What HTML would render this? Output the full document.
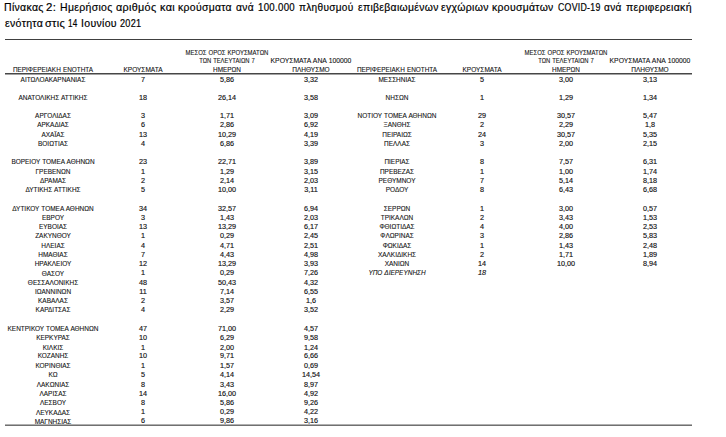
<!DOCTYPE html>
<html><head><meta charset="utf-8"><style>
html,body{margin:0;padding:0;background:#fff}
body{width:726px;height:437px;overflow:hidden;position:relative;font-family:"Liberation Sans",sans-serif}
.t{position:absolute;white-space:pre;font-size:11.4px;line-height:0;color:#000;transform-origin:0 0;letter-spacing:0.35px;-webkit-text-stroke:0.2px #000}
.tb div{position:absolute;width:200px;text-align:center;white-space:pre;font-size:6.6px;line-height:0;color:#111;transform-origin:100px 0;word-spacing:0.4px;-webkit-text-stroke:0.1px #111}
.tb .it{font-style:italic}
.tb .d{-webkit-text-stroke:0.14px #111}
.ln{position:absolute;left:5px;width:687px}
</style></head><body>
<div class="t" style="left:4.28px;top:7.05px;transform:scaleX(0.921)">Πίνακας</div>
<div class="t" style="left:45.87px;top:7.05px;transform:scaleX(1.001)">2:</div>
<div class="t" style="left:60.38px;top:7.05px;transform:scaleX(0.919)">Ημερήσιος</div>
<div class="t" style="left:116.06px;top:7.05px;transform:scaleX(0.946)">αριθμός</div>
<div class="t" style="left:159.72px;top:7.05px;transform:scaleX(0.955)">και</div>
<div class="t" style="left:178.35px;top:7.05px;transform:scaleX(0.914)">κρούσματα</div>
<div class="t" style="left:236.48px;top:7.05px;transform:scaleX(0.898)">ανά</div>
<div class="t" style="left:258.10px;top:7.05px;transform:scaleX(0.848)">100.000</div>
<div class="t" style="left:299.09px;top:7.05px;transform:scaleX(0.883)">πληθυσμού</div>
<div class="t" style="left:357.98px;top:7.05px;transform:scaleX(0.912)">επιβεβαιωμένων</div>
<div class="t" style="left:441.47px;top:7.05px;transform:scaleX(0.923)">εγχώριων</div>
<div class="t" style="left:492.45px;top:7.05px;transform:scaleX(0.915)">κρουσμάτων</div>
<div class="t" style="left:557.79px;top:7.05px;transform:scaleX(0.770)">COVID-19</div>
<div class="t" style="left:604.48px;top:7.05px;transform:scaleX(0.887)">ανά</div>
<div class="t" style="left:625.87px;top:7.05px;transform:scaleX(0.923)">περιφερειακή</div>
<div class="t" style="left:4.67px;top:23.05px;transform:scaleX(0.926)">ενότητα</div>
<div class="t" style="left:45.46px;top:23.05px;transform:scaleX(0.963)">στις</div>
<div class="t" style="left:68.29px;top:23.05px;transform:scaleX(0.715)">14</div>
<div class="t" style="left:81.18px;top:23.05px;transform:scaleX(0.921)">Ιουνίου</div>
<div class="t" style="left:119.87px;top:23.05px;transform:scaleX(0.803)">2021</div>
<div class="ln" style="top:39px;height:1px;background:#404040"></div>
<div class="ln" style="top:73px;height:1px;background:#474747"></div>
<div class="ln" style="top:74px;height:1px;background:#a2a2a2"></div>
<div class="ln" style="top:424px;height:1px;background:#b0b0b0"></div>
<div class="ln" style="top:425px;height:1px;background:#707070"></div>
<div class="tb">
<div class="n" style="left:-47.40px;top:79.71px;transform:scaleX(0.98)">ΑΙΤΩΛΟΑΚΑΡΝΑΝΙΑΣ</div>
<div class="d" style="left:42.90px;top:79.71px;transform:scaleX(1.1)">7</div>
<div class="d" style="left:127.00px;top:79.71px;transform:scaleX(1.1)">5,86</div>
<div class="d" style="left:211.00px;top:79.71px;transform:scaleX(1.1)">3,32</div>
<div class="n" style="left:-47.40px;top:98.15px;transform:scaleX(0.98)">ΑΝΑΤΟΛΙΚΗΣ ΑΤΤΙΚΗΣ</div>
<div class="d" style="left:42.90px;top:98.15px;transform:scaleX(1.1)">18</div>
<div class="d" style="left:127.00px;top:98.15px;transform:scaleX(1.1)">26,14</div>
<div class="d" style="left:211.00px;top:98.15px;transform:scaleX(1.1)">3,58</div>
<div class="n" style="left:-47.40px;top:115.59px;transform:scaleX(0.98)">ΑΡΓΟΛΙΔΑΣ</div>
<div class="d" style="left:42.90px;top:115.59px;transform:scaleX(1.1)">3</div>
<div class="d" style="left:127.00px;top:115.59px;transform:scaleX(1.1)">1,71</div>
<div class="d" style="left:211.00px;top:115.59px;transform:scaleX(1.1)">3,09</div>
<div class="n" style="left:-47.40px;top:124.81px;transform:scaleX(0.98)">ΑΡΚΑΔΙΑΣ</div>
<div class="d" style="left:42.90px;top:124.81px;transform:scaleX(1.1)">6</div>
<div class="d" style="left:127.00px;top:124.81px;transform:scaleX(1.1)">2,86</div>
<div class="d" style="left:211.00px;top:124.81px;transform:scaleX(1.1)">6,92</div>
<div class="n" style="left:-47.40px;top:135.03px;transform:scaleX(0.98)">ΑΧΑΪΑΣ</div>
<div class="d" style="left:42.90px;top:135.03px;transform:scaleX(1.1)">13</div>
<div class="d" style="left:127.00px;top:135.03px;transform:scaleX(1.1)">10,29</div>
<div class="d" style="left:211.00px;top:135.03px;transform:scaleX(1.1)">4,19</div>
<div class="n" style="left:-47.40px;top:144.25px;transform:scaleX(0.98)">ΒΟΙΩΤΙΑΣ</div>
<div class="d" style="left:42.90px;top:144.25px;transform:scaleX(1.1)">4</div>
<div class="d" style="left:127.00px;top:144.25px;transform:scaleX(1.1)">6,86</div>
<div class="d" style="left:211.00px;top:144.25px;transform:scaleX(1.1)">3,39</div>
<div class="n" style="left:-47.40px;top:161.69px;transform:scaleX(0.98)">ΒΟΡΕΙΟΥ ΤΟΜΕΑ ΑΘΗΝΩΝ</div>
<div class="d" style="left:42.90px;top:161.69px;transform:scaleX(1.1)">23</div>
<div class="d" style="left:127.00px;top:161.69px;transform:scaleX(1.1)">22,71</div>
<div class="d" style="left:211.00px;top:161.69px;transform:scaleX(1.1)">3,89</div>
<div class="n" style="left:-47.40px;top:171.91px;transform:scaleX(0.98)">ΓΡΕΒΕΝΩΝ</div>
<div class="d" style="left:42.90px;top:171.91px;transform:scaleX(1.1)">1</div>
<div class="d" style="left:127.00px;top:171.91px;transform:scaleX(1.1)">1,29</div>
<div class="d" style="left:211.00px;top:171.91px;transform:scaleX(1.1)">3,15</div>
<div class="n" style="left:-47.40px;top:181.13px;transform:scaleX(0.98)">ΔΡΑΜΑΣ</div>
<div class="d" style="left:42.90px;top:181.13px;transform:scaleX(1.1)">2</div>
<div class="d" style="left:127.00px;top:181.13px;transform:scaleX(1.1)">2,14</div>
<div class="d" style="left:211.00px;top:181.13px;transform:scaleX(1.1)">2,03</div>
<div class="n" style="left:-47.40px;top:190.35px;transform:scaleX(0.98)">ΔΥΤΙΚΗΣ ΑΤΤΙΚΗΣ</div>
<div class="d" style="left:42.90px;top:190.35px;transform:scaleX(1.1)">5</div>
<div class="d" style="left:127.00px;top:190.35px;transform:scaleX(1.1)">10,00</div>
<div class="d" style="left:211.00px;top:190.35px;transform:scaleX(1.1)">3,11</div>
<div class="n" style="left:-47.40px;top:208.79px;transform:scaleX(0.98)">ΔΥΤΙΚΟΥ ΤΟΜΕΑ ΑΘΗΝΩΝ</div>
<div class="d" style="left:42.90px;top:208.79px;transform:scaleX(1.1)">34</div>
<div class="d" style="left:127.00px;top:208.79px;transform:scaleX(1.1)">32,57</div>
<div class="d" style="left:211.00px;top:208.79px;transform:scaleX(1.1)">6,94</div>
<div class="n" style="left:-47.40px;top:218.01px;transform:scaleX(0.98)">ΕΒΡΟΥ</div>
<div class="d" style="left:42.90px;top:218.01px;transform:scaleX(1.1)">3</div>
<div class="d" style="left:127.00px;top:218.01px;transform:scaleX(1.1)">1,43</div>
<div class="d" style="left:211.00px;top:218.01px;transform:scaleX(1.1)">2,03</div>
<div class="n" style="left:-47.40px;top:227.23px;transform:scaleX(0.98)">ΕΥΒΟΙΑΣ</div>
<div class="d" style="left:42.90px;top:227.23px;transform:scaleX(1.1)">13</div>
<div class="d" style="left:127.00px;top:227.23px;transform:scaleX(1.1)">13,29</div>
<div class="d" style="left:211.00px;top:227.23px;transform:scaleX(1.1)">6,17</div>
<div class="n" style="left:-47.40px;top:236.45px;transform:scaleX(0.98)">ΖΑΚΥΝΘΟΥ</div>
<div class="d" style="left:42.90px;top:236.45px;transform:scaleX(1.1)">1</div>
<div class="d" style="left:127.00px;top:236.45px;transform:scaleX(1.1)">0,29</div>
<div class="d" style="left:211.00px;top:236.45px;transform:scaleX(1.1)">2,45</div>
<div class="n" style="left:-47.40px;top:245.67px;transform:scaleX(0.98)">ΗΛΕΙΑΣ</div>
<div class="d" style="left:42.90px;top:245.67px;transform:scaleX(1.1)">4</div>
<div class="d" style="left:127.00px;top:245.67px;transform:scaleX(1.1)">4,71</div>
<div class="d" style="left:211.00px;top:245.67px;transform:scaleX(1.1)">2,51</div>
<div class="n" style="left:-47.40px;top:254.89px;transform:scaleX(0.98)">ΗΜΑΘΙΑΣ</div>
<div class="d" style="left:42.90px;top:254.89px;transform:scaleX(1.1)">7</div>
<div class="d" style="left:127.00px;top:254.89px;transform:scaleX(1.1)">4,43</div>
<div class="d" style="left:211.00px;top:254.89px;transform:scaleX(1.1)">4,98</div>
<div class="n" style="left:-47.40px;top:264.11px;transform:scaleX(0.98)">ΗΡΑΚΛΕΙΟΥ</div>
<div class="d" style="left:42.90px;top:264.11px;transform:scaleX(1.1)">12</div>
<div class="d" style="left:127.00px;top:264.11px;transform:scaleX(1.1)">13,29</div>
<div class="d" style="left:211.00px;top:264.11px;transform:scaleX(1.1)">3,93</div>
<div class="n" style="left:-47.40px;top:274.33px;transform:scaleX(0.98)">ΘΑΣΟΥ</div>
<div class="d" style="left:42.90px;top:273.33px;transform:scaleX(1.1)">1</div>
<div class="d" style="left:127.00px;top:273.33px;transform:scaleX(1.1)">0,29</div>
<div class="d" style="left:211.00px;top:273.33px;transform:scaleX(1.1)">7,26</div>
<div class="n" style="left:-47.40px;top:282.55px;transform:scaleX(0.98)">ΘΕΣΣΑΛΟΝΙΚΗΣ</div>
<div class="d" style="left:42.90px;top:282.55px;transform:scaleX(1.1)">48</div>
<div class="d" style="left:127.00px;top:282.55px;transform:scaleX(1.1)">50,43</div>
<div class="d" style="left:211.00px;top:282.55px;transform:scaleX(1.1)">4,32</div>
<div class="n" style="left:-47.40px;top:291.77px;transform:scaleX(0.98)">ΙΩΑΝΝΙΝΩΝ</div>
<div class="d" style="left:42.90px;top:291.77px;transform:scaleX(1.1)">11</div>
<div class="d" style="left:127.00px;top:291.77px;transform:scaleX(1.1)">7,14</div>
<div class="d" style="left:211.00px;top:291.77px;transform:scaleX(1.1)">6,55</div>
<div class="n" style="left:-47.40px;top:300.99px;transform:scaleX(0.98)">ΚΑΒΑΛΑΣ</div>
<div class="d" style="left:42.90px;top:300.99px;transform:scaleX(1.1)">2</div>
<div class="d" style="left:127.00px;top:300.99px;transform:scaleX(1.1)">3,57</div>
<div class="d" style="left:211.00px;top:300.99px;transform:scaleX(1.1)">1,6</div>
<div class="n" style="left:-47.40px;top:310.21px;transform:scaleX(0.98)">ΚΑΡΔΙΤΣΑΣ</div>
<div class="d" style="left:42.90px;top:310.21px;transform:scaleX(1.1)">4</div>
<div class="d" style="left:127.00px;top:310.21px;transform:scaleX(1.1)">2,29</div>
<div class="d" style="left:211.00px;top:310.21px;transform:scaleX(1.1)">3,52</div>
<div class="n" style="left:-47.40px;top:328.65px;transform:scaleX(0.98)">ΚΕΝΤΡΙΚΟΥ ΤΟΜΕΑ ΑΘΗΝΩΝ</div>
<div class="d" style="left:42.90px;top:328.65px;transform:scaleX(1.1)">47</div>
<div class="d" style="left:127.00px;top:328.65px;transform:scaleX(1.1)">71,00</div>
<div class="d" style="left:211.00px;top:328.65px;transform:scaleX(1.1)">4,57</div>
<div class="n" style="left:-47.40px;top:337.87px;transform:scaleX(0.98)">ΚΕΡΚΥΡΑΣ</div>
<div class="d" style="left:42.90px;top:337.87px;transform:scaleX(1.1)">10</div>
<div class="d" style="left:127.00px;top:337.87px;transform:scaleX(1.1)">6,29</div>
<div class="d" style="left:211.00px;top:337.87px;transform:scaleX(1.1)">9,58</div>
<div class="n" style="left:-47.40px;top:348.09px;transform:scaleX(0.98)">ΚΙΛΚΙΣ</div>
<div class="d" style="left:42.90px;top:348.09px;transform:scaleX(1.1)">1</div>
<div class="d" style="left:127.00px;top:348.09px;transform:scaleX(1.1)">2,00</div>
<div class="d" style="left:211.00px;top:348.09px;transform:scaleX(1.1)">1,24</div>
<div class="n" style="left:-47.40px;top:356.31px;transform:scaleX(0.98)">ΚΟΖΑΝΗΣ</div>
<div class="d" style="left:42.90px;top:356.31px;transform:scaleX(1.1)">10</div>
<div class="d" style="left:127.00px;top:356.31px;transform:scaleX(1.1)">9,71</div>
<div class="d" style="left:211.00px;top:356.31px;transform:scaleX(1.1)">6,66</div>
<div class="n" style="left:-47.40px;top:365.53px;transform:scaleX(0.98)">ΚΟΡΙΝΘΙΑΣ</div>
<div class="d" style="left:42.90px;top:365.53px;transform:scaleX(1.1)">1</div>
<div class="d" style="left:127.00px;top:365.53px;transform:scaleX(1.1)">1,57</div>
<div class="d" style="left:211.00px;top:365.53px;transform:scaleX(1.1)">0,69</div>
<div class="n" style="left:-47.40px;top:374.75px;transform:scaleX(0.98)">ΚΩ</div>
<div class="d" style="left:42.90px;top:374.75px;transform:scaleX(1.1)">5</div>
<div class="d" style="left:127.00px;top:374.75px;transform:scaleX(1.1)">4,14</div>
<div class="d" style="left:211.00px;top:374.75px;transform:scaleX(1.1)">14,54</div>
<div class="n" style="left:-47.40px;top:384.97px;transform:scaleX(0.98)">ΛΑΚΩΝΙΑΣ</div>
<div class="d" style="left:42.90px;top:384.97px;transform:scaleX(1.1)">8</div>
<div class="d" style="left:127.00px;top:384.97px;transform:scaleX(1.1)">3,43</div>
<div class="d" style="left:211.00px;top:384.97px;transform:scaleX(1.1)">8,97</div>
<div class="n" style="left:-47.40px;top:394.19px;transform:scaleX(0.98)">ΛΑΡΙΣΑΣ</div>
<div class="d" style="left:42.90px;top:394.19px;transform:scaleX(1.1)">14</div>
<div class="d" style="left:127.00px;top:394.19px;transform:scaleX(1.1)">16,00</div>
<div class="d" style="left:211.00px;top:394.19px;transform:scaleX(1.1)">4,92</div>
<div class="n" style="left:-47.40px;top:403.41px;transform:scaleX(0.98)">ΛΕΣΒΟΥ</div>
<div class="d" style="left:42.90px;top:403.41px;transform:scaleX(1.1)">8</div>
<div class="d" style="left:127.00px;top:403.41px;transform:scaleX(1.1)">5,86</div>
<div class="d" style="left:211.00px;top:403.41px;transform:scaleX(1.1)">9,26</div>
<div class="n" style="left:-47.40px;top:412.63px;transform:scaleX(0.98)">ΛΕΥΚΑΔΑΣ</div>
<div class="d" style="left:42.90px;top:411.63px;transform:scaleX(1.1)">1</div>
<div class="d" style="left:127.00px;top:411.63px;transform:scaleX(1.1)">0,29</div>
<div class="d" style="left:211.00px;top:411.63px;transform:scaleX(1.1)">4,22</div>
<div class="n" style="left:-47.40px;top:421.85px;transform:scaleX(0.98)">ΜΑΓΝΗΣΙΑΣ</div>
<div class="d" style="left:42.90px;top:420.85px;transform:scaleX(1.1)">6</div>
<div class="d" style="left:127.00px;top:420.85px;transform:scaleX(1.1)">9,86</div>
<div class="d" style="left:211.00px;top:420.85px;transform:scaleX(1.1)">3,16</div>
<div class="n" style="left:296.60px;top:79.71px;transform:scaleX(0.98)">ΜΕΣΣΗΝΙΑΣ</div>
<div class="d" style="left:381.50px;top:79.71px;transform:scaleX(1.1)">5</div>
<div class="d" style="left:466.00px;top:79.71px;transform:scaleX(1.1)">3,00</div>
<div class="d" style="left:550.00px;top:79.71px;transform:scaleX(1.1)">3,13</div>
<div class="n" style="left:296.60px;top:98.15px;transform:scaleX(0.98)">ΝΗΣΩΝ</div>
<div class="d" style="left:381.50px;top:98.15px;transform:scaleX(1.1)">1</div>
<div class="d" style="left:466.00px;top:98.15px;transform:scaleX(1.1)">1,29</div>
<div class="d" style="left:550.00px;top:98.15px;transform:scaleX(1.1)">1,34</div>
<div class="n" style="left:296.60px;top:115.59px;transform:scaleX(0.98)">ΝΟΤΙΟΥ ΤΟΜΕΑ ΑΘΗΝΩΝ</div>
<div class="d" style="left:381.50px;top:115.59px;transform:scaleX(1.1)">29</div>
<div class="d" style="left:466.00px;top:115.59px;transform:scaleX(1.1)">30,57</div>
<div class="d" style="left:550.00px;top:115.59px;transform:scaleX(1.1)">5,47</div>
<div class="n" style="left:296.60px;top:124.81px;transform:scaleX(0.98)">ΞΑΝΘΗΣ</div>
<div class="d" style="left:381.50px;top:124.81px;transform:scaleX(1.1)">2</div>
<div class="d" style="left:466.00px;top:124.81px;transform:scaleX(1.1)">2,29</div>
<div class="d" style="left:550.00px;top:124.81px;transform:scaleX(1.1)">1,8</div>
<div class="n" style="left:296.60px;top:135.03px;transform:scaleX(0.98)">ΠΕΙΡΑΙΩΣ</div>
<div class="d" style="left:381.50px;top:135.03px;transform:scaleX(1.1)">24</div>
<div class="d" style="left:466.00px;top:135.03px;transform:scaleX(1.1)">30,57</div>
<div class="d" style="left:550.00px;top:135.03px;transform:scaleX(1.1)">5,35</div>
<div class="n" style="left:296.60px;top:144.25px;transform:scaleX(0.98)">ΠΕΛΛΑΣ</div>
<div class="d" style="left:381.50px;top:144.25px;transform:scaleX(1.1)">3</div>
<div class="d" style="left:466.00px;top:144.25px;transform:scaleX(1.1)">2,00</div>
<div class="d" style="left:550.00px;top:144.25px;transform:scaleX(1.1)">2,15</div>
<div class="n" style="left:296.60px;top:161.69px;transform:scaleX(0.98)">ΠΙΕΡΙΑΣ</div>
<div class="d" style="left:381.50px;top:161.69px;transform:scaleX(1.1)">8</div>
<div class="d" style="left:466.00px;top:161.69px;transform:scaleX(1.1)">7,57</div>
<div class="d" style="left:550.00px;top:161.69px;transform:scaleX(1.1)">6,31</div>
<div class="n" style="left:296.60px;top:171.91px;transform:scaleX(0.98)">ΠΡΕΒΕΖΑΣ</div>
<div class="d" style="left:381.50px;top:171.91px;transform:scaleX(1.1)">1</div>
<div class="d" style="left:466.00px;top:171.91px;transform:scaleX(1.1)">1,00</div>
<div class="d" style="left:550.00px;top:171.91px;transform:scaleX(1.1)">1,74</div>
<div class="n" style="left:296.60px;top:181.13px;transform:scaleX(0.98)">ΡΕΘΥΜΝΟΥ</div>
<div class="d" style="left:381.50px;top:181.13px;transform:scaleX(1.1)">7</div>
<div class="d" style="left:466.00px;top:181.13px;transform:scaleX(1.1)">5,14</div>
<div class="d" style="left:550.00px;top:181.13px;transform:scaleX(1.1)">8,18</div>
<div class="n" style="left:296.60px;top:190.35px;transform:scaleX(0.98)">ΡΟΔΟΥ</div>
<div class="d" style="left:381.50px;top:190.35px;transform:scaleX(1.1)">8</div>
<div class="d" style="left:466.00px;top:190.35px;transform:scaleX(1.1)">6,43</div>
<div class="d" style="left:550.00px;top:190.35px;transform:scaleX(1.1)">6,68</div>
<div class="n" style="left:296.60px;top:208.79px;transform:scaleX(0.98)">ΣΕΡΡΩΝ</div>
<div class="d" style="left:381.50px;top:208.79px;transform:scaleX(1.1)">1</div>
<div class="d" style="left:466.00px;top:208.79px;transform:scaleX(1.1)">3,00</div>
<div class="d" style="left:550.00px;top:208.79px;transform:scaleX(1.1)">0,57</div>
<div class="n" style="left:296.60px;top:218.01px;transform:scaleX(0.98)">ΤΡΙΚΑΛΩΝ</div>
<div class="d" style="left:381.50px;top:218.01px;transform:scaleX(1.1)">2</div>
<div class="d" style="left:466.00px;top:218.01px;transform:scaleX(1.1)">3,43</div>
<div class="d" style="left:550.00px;top:218.01px;transform:scaleX(1.1)">1,53</div>
<div class="n" style="left:296.60px;top:227.23px;transform:scaleX(0.98)">ΦΘΙΩΤΙΔΑΣ</div>
<div class="d" style="left:381.50px;top:227.23px;transform:scaleX(1.1)">4</div>
<div class="d" style="left:466.00px;top:227.23px;transform:scaleX(1.1)">4,00</div>
<div class="d" style="left:550.00px;top:227.23px;transform:scaleX(1.1)">2,53</div>
<div class="n" style="left:296.60px;top:236.45px;transform:scaleX(0.98)">ΦΛΩΡΙΝΑΣ</div>
<div class="d" style="left:381.50px;top:236.45px;transform:scaleX(1.1)">3</div>
<div class="d" style="left:466.00px;top:236.45px;transform:scaleX(1.1)">2,86</div>
<div class="d" style="left:550.00px;top:236.45px;transform:scaleX(1.1)">5,83</div>
<div class="n" style="left:296.60px;top:245.67px;transform:scaleX(0.98)">ΦΩΚΙΔΑΣ</div>
<div class="d" style="left:381.50px;top:245.67px;transform:scaleX(1.1)">1</div>
<div class="d" style="left:466.00px;top:245.67px;transform:scaleX(1.1)">1,43</div>
<div class="d" style="left:550.00px;top:245.67px;transform:scaleX(1.1)">2,48</div>
<div class="n" style="left:296.60px;top:254.89px;transform:scaleX(0.98)">ΧΑΛΚΙΔΙΚΗΣ</div>
<div class="d" style="left:381.50px;top:254.89px;transform:scaleX(1.1)">2</div>
<div class="d" style="left:466.00px;top:254.89px;transform:scaleX(1.1)">1,71</div>
<div class="d" style="left:550.00px;top:254.89px;transform:scaleX(1.1)">1,89</div>
<div class="n" style="left:296.60px;top:264.11px;transform:scaleX(0.98)">ΧΑΝΙΩΝ</div>
<div class="d" style="left:381.50px;top:264.11px;transform:scaleX(1.1)">14</div>
<div class="d" style="left:466.00px;top:264.11px;transform:scaleX(1.1)">10,00</div>
<div class="d" style="left:550.00px;top:264.11px;transform:scaleX(1.1)">8,94</div>
<div class="n it" style="left:296.60px;top:273.33px;transform:scaleX(0.98)">ΥΠΟ ΔΙΕΡΕΥΝΗΣΗ</div>
<div class="d it" style="left:381.50px;top:273.33px;transform:scaleX(1.1)">18</div>
<div style="left:-47.40px;top:69.71px;transform:scaleX(0.972)">ΠΕΡΙΦΕΡΕΙΑΚΗ ΕΝΟΤΗΤΑ</div>
<div style="left:42.90px;top:69.71px;transform:scaleX(0.988)">ΚΡΟΥΣΜΑΤΑ</div>
<div style="left:127.00px;top:52.81px;transform:scaleX(0.905)">ΜΕΣΟΣ ΟΡΟΣ ΚΡΟΥΣΜΑΤΩΝ</div>
<div style="left:127.00px;top:61.11px;transform:scaleX(0.885)">ΤΩΝ ΤΕΛΕΥΤΑΙΩΝ 7</div>
<div style="left:127.00px;top:69.71px;transform:scaleX(0.974)">ΗΜΕΡΩΝ</div>
<div style="left:211.00px;top:61.11px;transform:scaleX(1.03)">ΚΡΟΥΣΜΑΤΑ ΑΝΑ 100000</div>
<div style="left:211.00px;top:69.71px;transform:scaleX(0.985)">ΠΛΗΘΥΣΜΟ</div>
<div style="left:296.60px;top:69.71px;transform:scaleX(0.972)">ΠΕΡΙΦΕΡΕΙΑΚΗ ΕΝΟΤΗΤΑ</div>
<div style="left:381.50px;top:69.71px;transform:scaleX(0.988)">ΚΡΟΥΣΜΑΤΑ</div>
<div style="left:466.00px;top:52.81px;transform:scaleX(0.905)">ΜΕΣΟΣ ΟΡΟΣ ΚΡΟΥΣΜΑΤΩΝ</div>
<div style="left:466.00px;top:61.11px;transform:scaleX(0.885)">ΤΩΝ ΤΕΛΕΥΤΑΙΩΝ 7</div>
<div style="left:466.00px;top:69.71px;transform:scaleX(0.974)">ΗΜΕΡΩΝ</div>
<div style="left:550.00px;top:61.11px;transform:scaleX(1.03)">ΚΡΟΥΣΜΑΤΑ ΑΝΑ 100000</div>
<div style="left:550.00px;top:69.71px;transform:scaleX(0.985)">ΠΛΗΘΥΣΜΟ</div>
</div>
</body></html>
